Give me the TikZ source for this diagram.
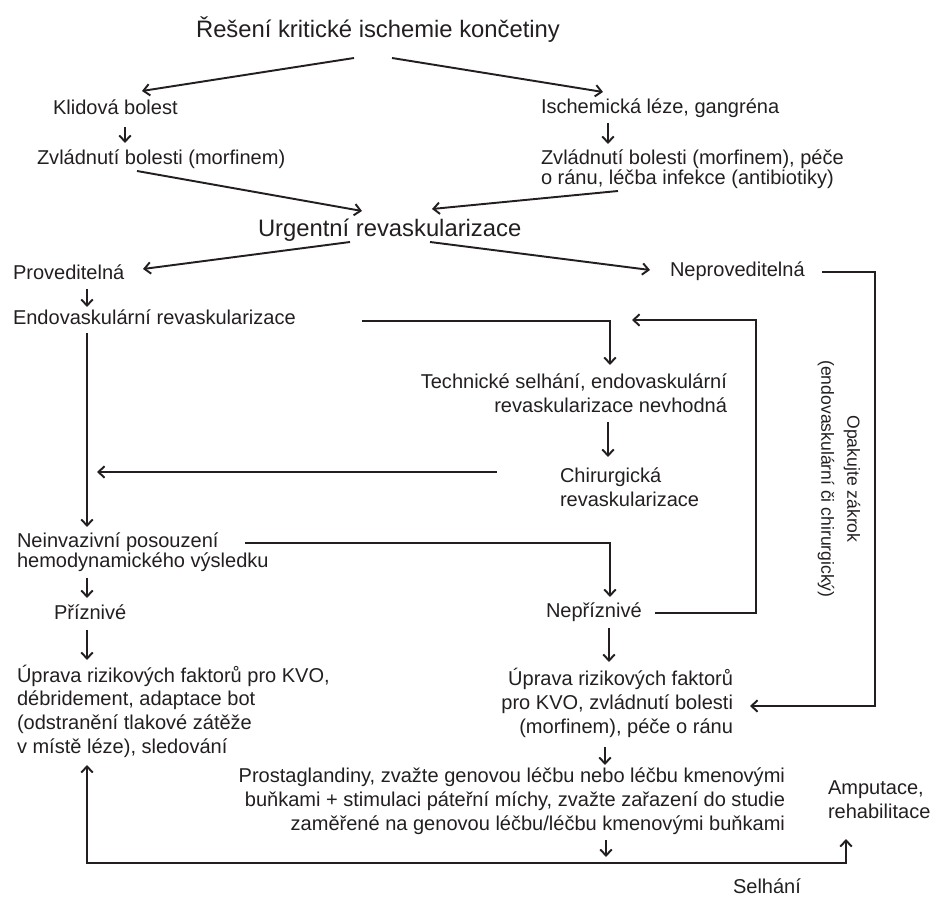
\documentclass[tikz,border=0pt]{standalone}
\usepackage{fontspec}
\setmainfont{Liberation Sans}
\usetikzlibrary{arrows.meta,calc}
\definecolor{ink}{HTML}{231F20}

\begin{document}
\begin{tikzpicture}[x=0.02cm,y=-0.02cm,
  every node/.style={inner sep=0pt, outer sep=0pt, text=ink},
  txt/.style={font=\fontsize{11.4}{#1}\selectfont},
  txt/.default=13.66pt,
  big/.style={font=\fontsize{13.55}{16}\selectfont},
  arr/.style={draw=ink, line width=1.1pt, -{Straight Barb[length=3.5pt,width=6.5pt]}},
  arrboth/.style={draw=ink, line width=1.1pt, {Straight Barb[length=3.5pt,width=6.5pt]}-{Straight Barb[length=3.5pt,width=6.5pt]}}
]
\useasboundingbox (0,0) rectangle (934,898);

% ---------- text blocks (multi-line blocks sit on their last baseline) ----------
\node[big, anchor=base] (title) at (378,38) {Řešení kritické ischemie končetiny};
\node[txt, anchor=base west] (klid) at (53,115) {Klidová bolest};
\node[txt, anchor=base west] (zvl1) at (37,165) {Zvládnutí bolesti (morfinem)};
\node[txt, anchor=base west] (isch) at (541,114) {Ischemická léze, gangréna};
\node[txt=11.95pt, anchor=base west, align=left] (zvl2) at (541,185)
  {Zvládnutí bolesti (morfinem), péče\\o ránu, léčba infekce (antibiotiky)};
\node[big, anchor=base west] (urg) at (258,237) {Urgentní revaskularizace};
\node[txt, anchor=base west] (prov) at (13,280) {Proveditelná};
\node[txt, anchor=base west] (nepr) at (670,277) {Neproveditelná};
\node[txt, anchor=base west] (endo) at (13,325) {Endovaskulární revaskularizace};
\node[txt=14.2pt, anchor=base east, align=right] (tech) at (727,413)
  {Technické selhání, endovaskulární\\revaskularizace nevhodná};
\node[txt=13.66pt, anchor=base west, align=left] (chir) at (560,507)
  {Chirurgická\\revaskularizace};
\node[txt=11.95pt, anchor=base west, align=left] (neinv) at (17,568)
  {Neinvazivní posouzení\\hemodynamického výsledku};
\node[txt, anchor=base west] (priz) at (54,620) {Příznivé};
\node[txt, anchor=base west] (nepriz) at (546,618) {Nepříznivé};
\node[txt=13.46pt, anchor=base west, align=left] (upr1) at (17,753)
  {Úprava rizikových faktorů pro KVO,\\débridement, adaptace bot\\(odstranění tlakové zátěže\\v místě léze), sledování};
\node[txt=13.66pt, anchor=base east, align=right] (upr2) at (733,733)
  {Úprava rizikových faktorů\\pro KVO, zvládnutí bolesti\\(morfinem), péče o ránu};
\node[txt=13.66pt, anchor=base east, align=right] (prost) at (785,830)
  {Prostaglandiny, zvažte genovou léčbu nebo léčbu kmenovými\\buňkami + stimulaci páteřní míchy, zvažte zařazení do studie\\zaměřené na genovou léčbu/léčbu kmenovými buňkami};
\node[txt=13.1pt, anchor=base west, align=left] (amp) at (828,818)
  {Amputace,\\rehabilitace};
\node[txt, anchor=base west] (selh) at (733,893) {Selhání};
\node[font=\fontsize{10}{14.8}\selectfont, rotate=-90, align=center] (rep) at (839,479)
  {Opakujte zákrok\\(endovaskulární či chirurgický)};

% ---------- connectors ----------
\draw[arr] ($(title.base -| 354,0)+(0,20)$) -- ($(klid.base -| 142,0)+(0,-24)$);
\draw[arr] ($(title.base -| 392,0)+(0,20)$) -- ($(isch.base -| 603,0)+(0,-22)$);
\draw[arr] ($(klid.base -| 125,0)+(0,12)$) -- ($(zvl1.base -| 125,0)+(0,-22)$);
\draw[arr] ($(isch.base -| 608,0)+(0,9)$) -- ($(zvl2.base -| 608,0)+(0,-41)$);
\draw[arr] ($(zvl1.base -| 137,0)+(0,6)$) -- ($(urg.base -| 362,0)+(0,-26)$);
\draw[arr] ($(zvl2.base -| 618,0)+(0,6)$) -- ($(urg.base -| 432,0)+(0,-28)$);
\draw[arr] ($(urg.base -| 350,0)+(0,5)$) -- ($(prov.base -| 143,0)+(0,-11)$);
\draw[arr] ($(urg.base -| 430,0)+(0,5)$) -- ($(nepr.base -| 650,0)+(0,-7)$);
\draw[arr] ($(prov.base -| 87,0)+(0,9)$) -- ($(endo.base -| 87,0)+(0,-18)$);
\draw[arr] ($(endo.base -| 87,0)+(0,8)$) -- ($(neinv.base -| 87,0)+(0,-41)$);
\draw[arr] ($(endo.base -| 362,0)+(0,-4)$) -| ($(tech.base -| 610,0)+(0,-48)$);
\draw[arr] ($(tech.base -| 608,0)+(0,9)$) -- ($(chir.base -| 608,0)+(0,-50)$);
\draw[arr] ($(chir.base -| 497,0)+(0,-35)$) -- ($(chir.base -| 97,0)+(0,-35)$);
\draw[arr] ($(neinv.base -| 245,0)+(0,-25)$) -| ($(nepriz.base -| 610,0)+(0,-21)$);
\draw[arr] ($(neinv.base -| 87,0)+(0,10)$) -- ($(priz.base -| 87,0)+(0,-22)$);
\draw[arr] ($(priz.base -| 87,0)+(0,10)$) -- ($(upr1.base -| 87,0)+(0,-93)$);
\draw[arr] ($(nepriz.base -| 609,0)+(0,10)$) -- ($(upr2.base -| 609,0)+(0,-71)$);
% repeat loop back to the technical-failure branch
\draw[arr] ($(nepriz.base -| 655,0)+(0,-5)$) -| ($(tech.base -| 756,0)+(0,-93)$)
  -- ($(tech.base -| 632,0)+(0,-93)$);
% not feasible: straight to conservative care
\draw[arr] ($(nepr.base -| 822,0)+(0,-5)$) -| ($(upr2.base -| 875,0)+(0,-27)$)
  -- ($(upr2.base -| 750,0)+(0,-27)$);
\draw[arr] ($(upr2.base -| 605,0)+(0,14)$) -- ($(prost.base -| 605,0)+(0,-65)$);
% failure bar
\coordinate (failtip) at ($(prost.base -| 606,0)+(0,27)$);
\draw[arr] ($(prost.base -| 606,0)+(0,10)$) -- (failtip);
\draw[arrboth] ($(upr1.base -| 87,0)+(0,12)$) |- ($(amp.base -| 846,0)+(0,45)$)
  -- ($(amp.base -| 846,0)+(0,21)$);
\end{tikzpicture}
\end{document}
